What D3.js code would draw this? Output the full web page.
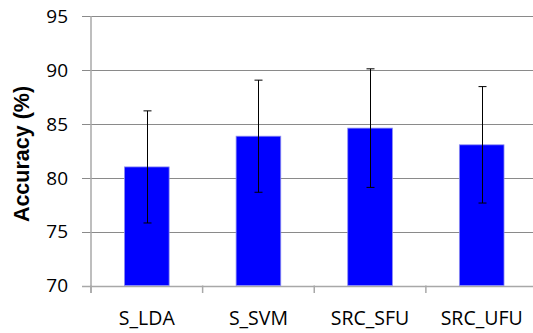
<!DOCTYPE html>
<html>
<head>
<meta charset="utf-8">
<script src="https://cdn.jsdelivr.net/npm/d3@7"></script>
<style>
  body { margin: 0; background: #fff; }
  svg { display: block; }
  .tick-label { font-family: "Open Sans", sans-serif; fill: #000; }
</style>
</head>
<body>
<div id="chart"></div>
<script>
// data
const categories = ['S_LDA', 'S_SVM', 'SRC_SFU', 'SRC_UFU'];
const accuracy = [81.0, 83.85, 84.6, 83.05];
const errors = [5.2, 5.2, 5.5, 5.4];
const yTicks = [70, 75, 80, 85, 90, 95];

const width = 533;
const height = 333;
const left = 91;
const right = 537.5; // plot runs a little past the picture edge

const svg = d3.select('#chart').append('svg')
  .attr('width', width)
  .attr('height', height);

// scales
const xScale = d3.scaleBand()
  .domain(categories)
  .range([left, right])
  .paddingInner(0.6)
  .paddingOuter(0.3);

const yScale = d3.scaleLinear()
  .domain([70, 95])
  .range([285.5, 16]);

// gridlines
svg.append('g')
  .selectAll('line')
  .data(yTicks)
  .join('line')
  .attr('x1', 82)
  .attr('x2', width)
  .attr('y1', (d) => Math.round(yScale(d)) + 0.5)
  .attr('y2', (d) => Math.round(yScale(d)) + 0.5)
  .attr('stroke', (d) => (d === 70 ? '#a8a8a8' : '#8a8a8a'))
  .attr('stroke-width', (d) => (d === 70 ? 1.5 : 1));

// y axis line
svg.append('line')
  .attr('x1', left)
  .attr('x2', left)
  .attr('y1', 16)
  .attr('y2', 293)
  .attr('stroke', '#a8a8a8')
  .attr('stroke-width', 1.5);

// y tick labels
svg.append('g')
  .selectAll('text')
  .data(yTicks)
  .join('text')
  .attr('class', 'tick-label')
  .attr('x', 68)
  .attr('y', (d) => yScale(d))
  .attr('dy', '0.36em')
  .attr('text-anchor', 'end')
  .style('font-size', '19px')
  .text((d) => d);

// x category boundary ticks
const step = (right - left) / categories.length;
svg.append('g')
  .selectAll('line')
  .data(d3.range(categories.length + 1))
  .join('line')
  .attr('x1', (i) => left + i * step)
  .attr('x2', (i) => left + i * step)
  .attr('y1', 285.5)
  .attr('y2', 293)
  .attr('stroke', '#a8a8a8')
  .attr('stroke-width', 1.5);

// x labels
svg.append('g')
  .selectAll('text')
  .data(categories)
  .join('text')
  .attr('class', 'tick-label')
  .attr('x', (d) => xScale(d) + xScale.bandwidth() / 2)
  .attr('y', 325)
  .attr('text-anchor', 'middle')
  .style('font-size', '19.5px')
  .text((d) => d);

// bars
svg.append('g')
  .selectAll('rect')
  .data(categories)
  .join('rect')
  .attr('x', (d) => xScale(d))
  .attr('width', xScale.bandwidth())
  .attr('y', (d, i) => yScale(accuracy[i]))
  .attr('height', (d, i) => yScale(70) - yScale(accuracy[i]))
  .attr('fill', '#0000ff')
  .attr('stroke', '#8c8cf0')
  .attr('stroke-width', 0.8);

// error bars
const err = svg.append('g')
  .attr('stroke', '#000')
  .attr('stroke-width', 1);

categories.forEach((c, i) => {
  const cx = Math.round(xScale(c) + xScale.bandwidth() / 2) + 0.5;
  const top = yScale(accuracy[i] + errors[i]);
  const bottom = yScale(accuracy[i] - errors[i]);
  err.append('line').attr('x1', cx).attr('x2', cx).attr('y1', top).attr('y2', bottom);
  err.append('line').attr('x1', cx - 4).attr('x2', cx + 4).attr('y1', top).attr('y2', top);
  err.append('line').attr('x1', cx - 4).attr('x2', cx + 4).attr('y1', bottom).attr('y2', bottom);
});

// y axis title
svg.append('text')
  .attr('transform', 'translate(29,154) rotate(-90)')
  .attr('text-anchor', 'middle')
  .style('font-family', '"Liberation Sans", Arial, sans-serif')
  .style('font-weight', 'bold')
  .style('font-size', '21.5px')
  .text('Accuracy (%)');
</script>
</body>
</html>
